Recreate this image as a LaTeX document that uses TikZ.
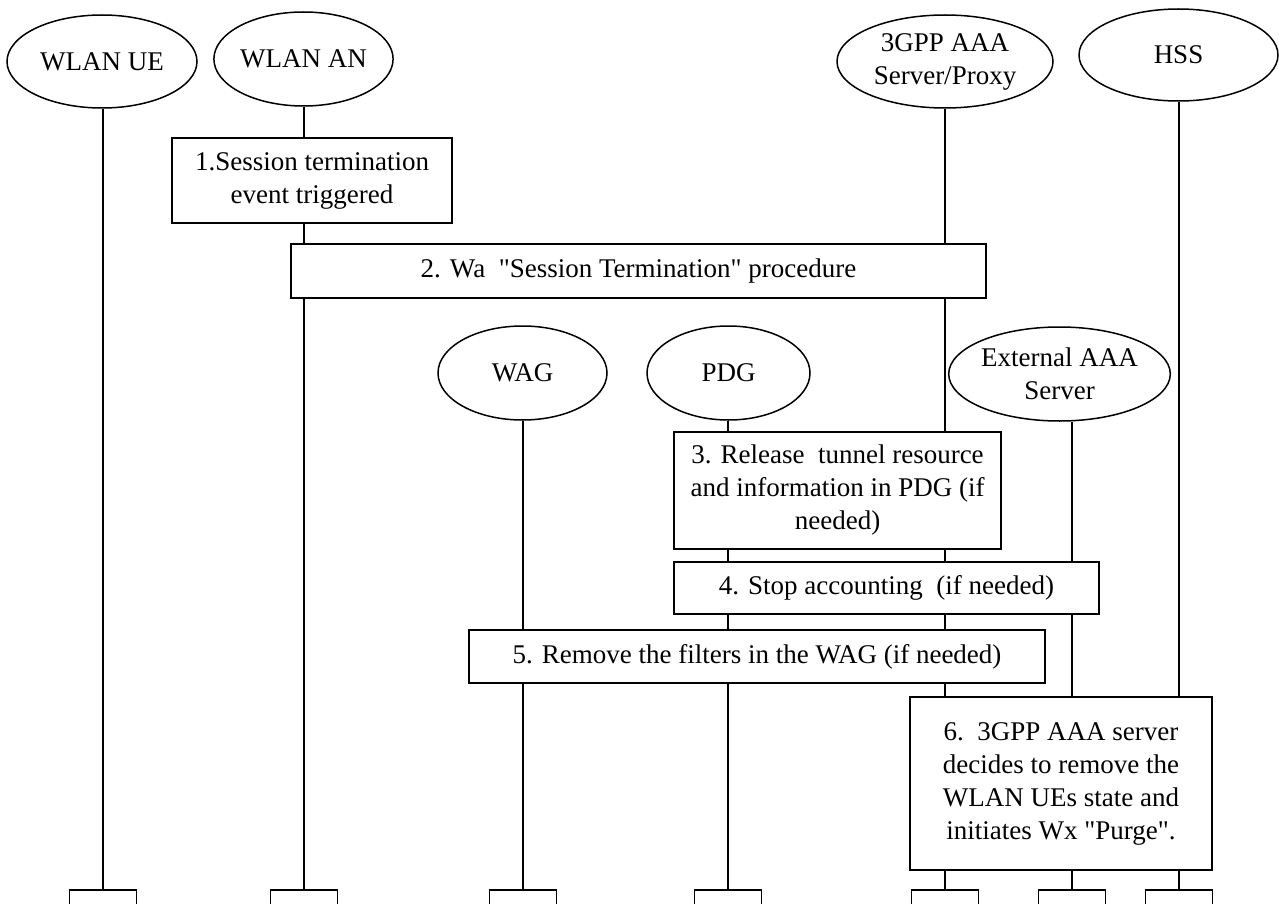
\documentclass[tikz,border=0pt]{standalone}
\usepackage{fontspec}
\setmainfont[Ligatures=TeXOff]{Liberation Serif}
\usetikzlibrary{shapes.geometric}

\begin{document}
\begin{tikzpicture}[x=1pt,y=-1pt,line width=1.5pt,
    every node/.style={font=\fontsize{27}{33}\selectfont},
    entity/.style={draw,ellipse,inner sep=0pt,align=center},
    stepbox/.style={draw,fill=white,rectangle,inner sep=0pt,align=center},
    endbox/.style={draw,rectangle,inner sep=0pt,minimum width=67pt,minimum height=30pt}]
        \newcommand{\figseqtopy}{61.5}
        \newcommand{\figseqmidy}{373}
        \newcommand{\figseqendy}{905}
        \newcommand{\figseqlifeax}{103}
        \newcommand{\figseqlifebx}{304}
        \newcommand{\figseqlifecx}{523}
        \newcommand{\figseqlifedx}{728}
        \newcommand{\figseqlifeex}{945}
        \newcommand{\figseqlifefx}{1072}
        \newcommand{\figseqlifegx}{1179}
        \clip (0,0) rectangle (1279,904);
        % entities
        \node[entity,minimum width=190pt,minimum height=93pt] (ue) at (102,\figseqtopy) {WLAN UE};
        \node[entity,minimum width=175pt,minimum height=94pt] (an) at (303.5,59) {WLAN AN};
        \node[entity,minimum width=216pt,minimum height=93pt] (aaa) at (945,\figseqtopy) {3GPP AAA\\Server/Proxy};
        \node[entity,minimum width=199pt,minimum height=92pt] (hss) at (1178.5,55) {HSS};
        \node[entity,minimum width=169pt,minimum height=94pt] (wag) at (522.5,\figseqmidy) {WAG};
        \node[entity,minimum width=163pt,minimum height=94pt] (pdg) at (728.5,\figseqmidy) {PDG};
        \node[entity,minimum width=215pt,minimum height=94pt] (ext) at (1059.5,374) {External AAA\\Server};
        % end boxes
        \node[endbox] (ueend) at (\figseqlifeax,\figseqendy) {};
        \node[endbox] (anend) at (\figseqlifebx,\figseqendy) {};
        \node[endbox] (wagend) at (\figseqlifecx,\figseqendy) {};
        \node[endbox] (pdgend) at (\figseqlifedx,\figseqendy) {};
        \node[endbox] (aaaend) at (\figseqlifeex,\figseqendy) {};
        \node[endbox] (extend) at (\figseqlifefx,\figseqendy) {};
        \node[endbox] (hssend) at (\figseqlifegx,\figseqendy) {};
        % lifelines
        \draw (ue.south -| ueend.north) -- (ueend.north);
        \draw (an.south -| anend.north) -- (anend.north);
        \draw (wag.south -| wagend.north) -- (wagend.north);
        \draw (pdg.south -| pdgend.north) -- (pdgend.north);
        \draw (aaa.south -| aaaend.north) -- (aaaend.north);
        \draw (ext.south -| extend.north) -- (extend.north);
        \draw (hss.south -| hssend.north) -- (hssend.north);
        % steps
        \node[stepbox,minimum width=280pt,minimum height=85pt] (stepa) at (312,180.5) {1.Session termination\\event triggered};
        \node[stepbox,minimum width=695pt,minimum height=54pt] (stepb) at (638.5,271) {2. Wa~~"Session Termination" procedure};
        \node[stepbox,minimum width=327pt,minimum height=117pt] (stepc) at (837.5,490.5) {3. Release~~tunnel resource\\and information in PDG (if\\needed)};
        \node[stepbox,minimum width=425pt,minimum height=52pt] (stepd) at (886.5,588) {4. Stop accounting~~(if needed)};
        \node[stepbox,minimum width=576pt,minimum height=53pt] (stepe) at (757,656.5) {5. Remove the filters in the WAG (if needed)};
        \node[stepbox,minimum width=302pt,minimum height=173pt] (stepf) at (1061,783.5) {6.~~3GPP AAA server\\decides to remove the\\WLAN UEs state and\\initiates Wx "Purge".};
\end{tikzpicture}
\end{document}
